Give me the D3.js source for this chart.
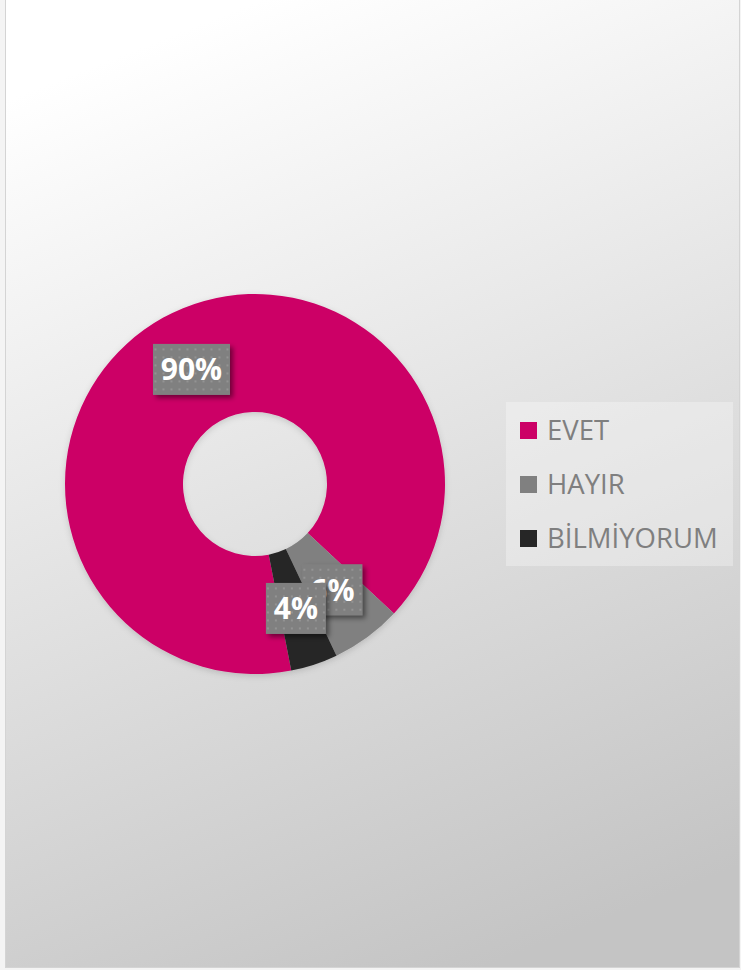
<!DOCTYPE html>
<html>
<head>
<meta charset="utf-8">
<script src="https://cdn.jsdelivr.net/npm/d3@7"></script>
<style>
  html, body { margin: 0; padding: 0; background: #ffffff; }
  svg { display: block; }
</style>
</head>
<body>
<div id="main"></div>
<script>
// chart data
const categories = ['EVET', 'HAYIR', 'BİLMİYORUM'];
const values = [90, 6, 4];
const colors = ['#cc0066', '#808080', '#262626'];

const width = 741, height = 970;
const cx = 255, cy = 484;
const outerR = 190, innerR = 72;
const firstSliceAngle = 169; // degrees, like excel "angle of first slice"

const svg = d3.select('#main').append('svg')
    .attr('width', width)
    .attr('height', height);

const defs = svg.append('defs');

const bg = defs.append('linearGradient')
    .attr('id', 'bgGrad')
    .attr('x1', '0.35').attr('y1', '0')
    .attr('x2', '0.65').attr('y2', '1');
bg.append('stop').attr('offset', '0').attr('stop-color', '#ffffff');
bg.append('stop').attr('offset', '1').attr('stop-color', '#c4c4c4');

// dotted fill for the data labels
const pat = defs.append('pattern')
    .attr('id', 'dots')
    .attr('width', 8).attr('height', 8)
    .attr('patternUnits', 'userSpaceOnUse');
pat.append('rect').attr('width', 8).attr('height', 8).attr('fill', '#808080');
pat.append('rect').attr('x', 3).attr('y', 3).attr('width', 2).attr('height', 2).attr('fill', '#939393');

const shadow = defs.append('filter')
    .attr('id', 'lblShadow')
    .attr('x', '-30%').attr('y', '-30%')
    .attr('width', '160%').attr('height', '160%');
shadow.append('feDropShadow')
    .attr('dx', 3).attr('dy', 3)
    .attr('stdDeviation', 2.5)
    .attr('flood-color', '#000')
    .attr('flood-opacity', 0.45);

const pieShadow = defs.append('filter')
    .attr('id', 'pieShadow')
    .attr('x', '-20%').attr('y', '-20%')
    .attr('width', '140%').attr('height', '140%');
pieShadow.append('feDropShadow')
    .attr('dx', 0).attr('dy', 2)
    .attr('stdDeviation', 3)
    .attr('flood-color', '#000')
    .attr('flood-opacity', 0.15);

// background + frame
svg.append('rect')
    .attr('x', 0).attr('y', 0)
    .attr('width', width).attr('height', height)
    .attr('fill', '#f4f4f4');
svg.append('rect')
    .attr('x', 5.5).attr('y', -1)
    .attr('width', 734).attr('height', 968.5)
    .attr('fill', 'url(#bgGrad)')
    .attr('stroke', '#d4d4d4')
    .attr('stroke-width', 1);

// donut
const pie = d3.pie()
    .sort(null)
    .startAngle(firstSliceAngle * Math.PI / 180)
    .endAngle(firstSliceAngle * Math.PI / 180 + 2 * Math.PI);

const arc = d3.arc().innerRadius(innerR).outerRadius(outerR);
const color = d3.scaleOrdinal().domain(categories).range(colors);

const arcs = pie(values);

const g = svg.append('g')
    .attr('transform', `translate(${cx},${cy})`);

g.append('g')
    .attr('filter', 'url(#pieShadow)')
    .selectAll('path')
    .data(arcs)
    .join('path')
    .attr('d', arc)
    .attr('fill', (d, i) => color(categories[i]));

// data labels
const total = d3.sum(values);
const lbl = g.selectAll('g.lbl')
    .data(arcs)
    .join('g')
    .attr('class', 'lbl')
    .attr('transform', d => `translate(${arc.centroid(d)})`);

lbl.each(function(d, i) {
    const txt = Math.round(d.value / total * 100) + '%';
    const w = txt.length > 2 ? 77 : 60;
    const h = 51;
    const node = d3.select(this);
    node.append('rect')
        .attr('x', -w / 2).attr('y', -h / 2)
        .attr('width', w).attr('height', h)
        .attr('fill', 'url(#dots)')
        .attr('filter', 'url(#lblShadow)');
    node.append('text')
        .attr('text-anchor', 'middle')
        .attr('dy', '0.36em')
        .attr('fill', '#ffffff')
        .attr('font-family', 'Open Sans, sans-serif')
        .attr('font-weight', 'bold')
        .attr('font-size', 30)
        .text(txt);
});

// legend
const legend = svg.append('g').attr('transform', 'translate(506,402)');
legend.append('rect')
    .attr('width', 227).attr('height', 164)
    .attr('fill', '#ffffff')
    .attr('fill-opacity', 0.3);

const rowY = d3.scalePoint().domain(categories).range([28, 136]);

const item = legend.selectAll('g.item')
    .data(categories)
    .join('g')
    .attr('class', 'item')
    .attr('transform', d => `translate(14,${rowY(d)})`);

item.append('rect')
    .attr('x', 0).attr('y', -8)
    .attr('width', 17).attr('height', 17)
    .attr('fill', d => color(d));

item.append('text')
    .attr('x', 27)
    .attr('dy', '0.36em')
    .attr('fill', '#7f7f7f')
    .attr('font-family', 'Open Sans, sans-serif')
    .attr('font-size', 27.5)
    .text(d => d);
</script>
</body>
</html>
